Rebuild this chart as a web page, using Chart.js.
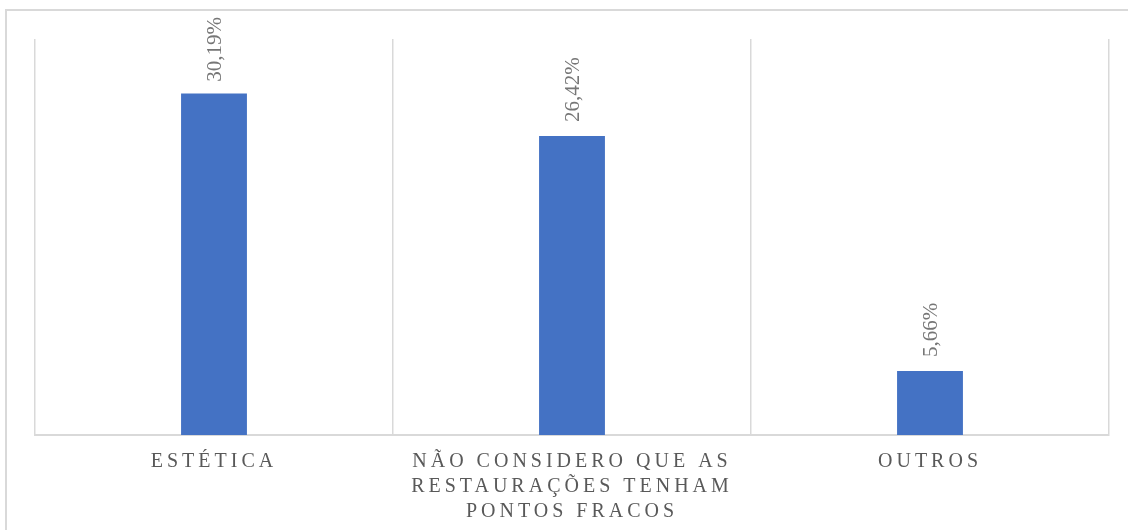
<!DOCTYPE html>
<html>
<head>
<meta charset="utf-8">
<script src="https://cdn.jsdelivr.net/npm/chart.js@4/dist/chart.umd.min.js"></script>
<style>
  html, body { margin: 0; padding: 0; background: #fff; }
  #wrap { width: 1128px; height: 530px; position: relative; }
</style>
</head>
<body>
<div id="wrap"><canvas id="chart" width="1128" height="530"></canvas></div>
<script>
// Chart data
const categories = [
  ["ESTÉTICA"],
  ["NÃO CONSIDERO QUE AS", "RESTAURAÇÕES TENHAM", "PONTOS FRACOS"],
  ["OUTROS"]
];
const values = [30.19, 26.42, 5.66];
const valueLabels = ["30,19%", "26,42%", "5,66%"];

const SERIF = "'Liberation Serif', 'Times New Roman', serif";

// outer frame (top + left edge) and letter spacing for the axis labels
const framePlugin = {
  id: "frame",
  beforeDraw(chart) {
    const ctx = chart.ctx;
    ctx.save();
    ctx.strokeStyle = "#d9d9d9";
    ctx.lineWidth = 2;
    ctx.beginPath();
    ctx.moveTo(6, 530);
    ctx.lineTo(6, 10);
    ctx.lineTo(1128, 10);
    ctx.stroke();
    ctx.restore();
    ctx.letterSpacing = "4px";
  }
};

// rotated value labels above each bar
const valueLabelPlugin = {
  id: "valueLabels",
  afterDatasetsDraw(chart) {
    const ctx = chart.ctx;
    ctx.letterSpacing = "0px";
    const meta = chart.getDatasetMeta(0);
    ctx.save();
    ctx.font = "21px " + SERIF;
    ctx.fillStyle = "#767676";
    ctx.textAlign = "left";
    ctx.textBaseline = "middle";
    meta.data.forEach((bar, i) => {
      const txt = valueLabels[i];
      const w = ctx.measureText(txt).width;
      let start = bar.y - 14;
      if (start - w < 17) start = 17 + w; // keep label inside the frame
      ctx.save();
      ctx.translate(bar.x + 1, start);
      ctx.rotate(-Math.PI / 2);
      ctx.fillText(txt, 0, 0);
      ctx.restore();
    });
    ctx.restore();
  }
};

new Chart(document.getElementById("chart"), {
  type: "bar",
  data: {
    labels: categories,
    datasets: [{
      data: values,
      backgroundColor: "#4472C4",
      borderWidth: 0,
      categoryPercentage: 1,
      barPercentage: 0.184
    }]
  },
  options: {
    responsive: false,
    animation: false,
    events: [],
    layout: { padding: { left: 35, right: 19, top: 39, bottom: 0 } },
    plugins: {
      legend: { display: false },
      tooltip: { enabled: false }
    },
    scales: {
      x: {
        afterFit(scale) { scale.height = 95; },
        grid: {
          color: "#d9d9d9",
          lineWidth: 1.5,
          drawTicks: false,
          offset: true
        },
        border: { color: "#d9d9d9", width: 2 },
        ticks: {
          color: "#595959",
          font: { family: SERIF, size: 20, lineHeight: 1.25 },
          padding: 14,
          maxRotation: 0,
          autoSkip: false
        }
      },
      y: {
        display: false,
        min: 0,
        max: 35
      }
    }
  },
  plugins: [framePlugin, valueLabelPlugin]
});
</script>
</body>
</html>
